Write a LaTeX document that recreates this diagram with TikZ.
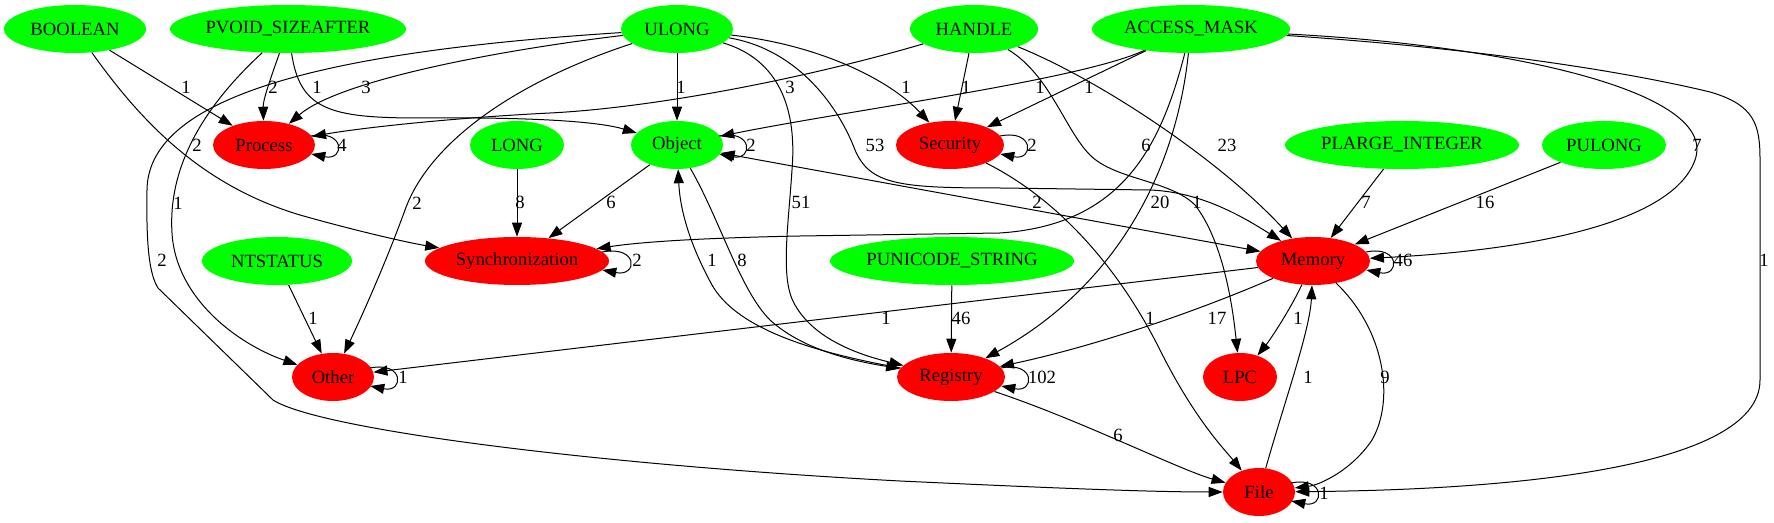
\documentclass[tikz,border=0pt]{standalone}
\usepackage{fontspec}
\setmainfont{Liberation Serif}
\usetikzlibrary{shapes.geometric,arrows.meta}
\definecolor{gvgreen}{HTML}{00FF00}
\definecolor{gvred}{HTML}{FF0000}
\begin{document}
\begin{tikzpicture}[x=0.75pt,y=-0.75pt,
  every node/.style={font=\fontsize{14}{16}\selectfont},
  gn/.style={ellipse, fill=gvgreen, inner sep=0pt, minimum height=36pt, minimum width=#1*1.5pt},
  rn/.style={ellipse, fill=gvred, inner sep=0pt, minimum height=36pt, minimum width=#1*1.5pt},
  conn/.style={draw, line width=0.75pt, -{Triangle[length=10.5pt,width=7.5pt]}},
  both/.style={draw, line width=0.75pt, {Triangle[length=10.5pt,width=7.5pt]}-{Triangle[length=10.5pt,width=7.5pt]}},
  lbl/.style={inner sep=0pt}]
\useasboundingbox (0,0) rectangle (1774,523);
% rank 0
\node[gn=71] (BOOL) at (75,29) {BOOLEAN};
\node[gn=118] (PVOID) at (288,29) {PVOID\_SIZEAFTER};
\node[gn=56] (ULONG) at (677,29) {ULONG};
\node[gn=64] (HANDLE) at (974,29) {HANDLE};
\node[gn=99] (AMASK) at (1191,29) {ACCESS\_MASK};
% rank 1
\node[rn=51] (PROC) at (264,145) {Process};
\node[gn=47] (LONG) at (517,145) {LONG};
\node[gn=46] (OBJ) at (677,145) {Object};
\node[rn=54] (SEC) at (950,145) {Security};
\node[gn=117] (PLARGE) at (1402,145) {PLARGE\_INTEGER};
\node[gn=62] (PULONG) at (1604,145) {PULONG};
% rank 2
\node[gn=75] (NTS) at (277,261) {NTSTATUS};
\node[rn=92] (SYNC) at (517,261) {Synchronization};
\node[gn=122] (PUNI) at (952,261) {PUNICODE\_STRING};
\node[rn=57] (MEM) at (1313,261) {Memory};
% rank 3
\node[rn=41] (OTH) at (333,377) {Other};
\node[rn=54] (REG) at (951,377) {Registry};
\node[rn=37] (LPC) at (1240,377) {LPC};
% rank 4
\node[rn=36] (FILE) at (1259,492) {File};

% edges
\draw[conn] (BOOL) -- (PROC);
\draw[conn] (BOOL) .. controls (140,120) and (200,185) .. (300,215) .. controls (360,232) and (410,243) .. (SYNC);
\draw[conn] (PVOID) .. controls (270,80) and (263,100) .. (PROC);
\draw[conn] (PVOID) .. controls (300,110) and (330,118) .. (420,118) .. controls (540,117) and (600,122) .. (OBJ);
\draw[conn] (PVOID) .. controls (200,110) and (168,170) .. (172,233) .. controls (176,300) and (240,345) .. (OTH);
\draw[conn] (ULONG) .. controls (500,50) and (340,80) .. (PROC);
\draw[conn] (ULONG) .. controls (350,50) and (148,90) .. (147,190) .. controls (146,250) and (150,275) .. (158,288) -- (273,400) .. controls (320,430) and (600,465) .. (900,481) .. controls (1050,488) and (1150,492) .. (FILE);
\draw[conn] (ULONG) .. controls (520,80) and (430,140) .. (405,210) .. controls (385,265) and (360,320) .. (OTH);
\draw[conn] (ULONG) -- (OBJ);
\draw[conn] (ULONG) .. controls (820,45) and (890,80) .. (SEC);
\draw[conn] (ULONG) .. controls (780,60) and (797,110) .. (792,170) .. controls (788,230) and (780,280) .. (795,305) .. controls (815,340) and (860,355) .. (REG);
\draw[conn] (ULONG) .. controls (800,50) and (840,110) .. (855,150) .. controls (870,185) and (900,188) .. (1000,188) -- (1150,190) .. controls (1200,192) and (1240,215) .. (MEM);
\draw[conn] (HANDLE) .. controls (800,80) and (650,108) .. (550,113) .. controls (450,118) and (360,128) .. (PROC);
\draw[conn] (HANDLE) -- (SEC);
\draw[conn] (HANDLE) .. controls (1050,75) and (1065,130) .. (1090,155) .. controls (1115,180) and (1170,180) .. (1195,205) .. controls (1222,240) and (1232,300) .. (LPC);
\draw[conn] (HANDLE) .. controls (1100,80) and (1220,160) .. (MEM);
\draw[conn] (AMASK) .. controls (1080,80) and (850,110) .. (OBJ);
\draw[conn] (AMASK) -- (SEC);
\draw[conn] (AMASK) .. controls (1160,150) and (1120,225) .. (1000,233) -- (800,236) .. controls (700,238) and (640,242) .. (SYNC);
\draw[conn] (AMASK) .. controls (1175,180) and (1110,290) .. (REG);
\draw[conn] (AMASK) .. controls (1500,45) and (1720,90) .. (1695,160) .. controls (1670,230) and (1500,252) .. (MEM);
\draw[conn] (AMASK) .. controls (1500,50) and (1640,75) .. (1710,92) .. controls (1755,105) and (1760,125) .. (1760,160) -- (1760,380) .. controls (1760,470) and (1500,490) .. (FILE);
\draw[conn] (LONG) -- (SYNC);
\draw[conn] (NTS) -- (OTH);
\draw[conn] (PUNI) -- (REG);
\draw[conn] (PLARGE) -- (MEM);
\draw[conn] (PULONG) -- (MEM);
\draw[conn] (OBJ) -- (SYNC);
\draw[conn] (OBJ) .. controls (720,220) and (740,290) .. (770,320) .. controls (805,352) and (860,362) .. (REG);
\draw[conn] (REG) .. controls (800,350) and (735,325) .. (712,285) .. controls (690,245) and (680,210) .. (OBJ);
\draw[both] (OBJ) -- (MEM);
\draw[conn] (MEM) -- (OTH);
\draw[conn] (MEM) .. controls (1200,310) and (1100,345) .. (REG);
\draw[conn] (MEM) .. controls (1290,310) and (1270,340) .. (LPC);
\draw[conn] (MEM) .. controls (1385,330) and (1395,400) .. (1372,440) .. controls (1352,470) and (1320,485) .. (FILE);
\draw[conn] (FILE) .. controls (1285,400) and (1310,330) .. (MEM);
\draw[conn] (SEC) .. controls (1060,200) and (1120,270) .. (1160,350) .. controls (1195,420) and (1225,450) .. (FILE);
\draw[conn] (REG) .. controls (1080,420) and (1180,470) .. (FILE);
% self loops
\foreach \n in {PROC,OBJ,SEC,MEM,OTH,REG,FILE}
  \draw[conn] ([shift={(-4,-9)}]\n.east) .. controls +(34,-7) and +(34,7) .. ([shift={(-4,9)}]\n.east);
\draw[conn] ([shift={(-7,-9)}]SYNC.east) .. controls +(36,-7) and +(36,7) .. ([shift={(-7,9)}]SYNC.east);

% labels
\node[lbl] (l1) at (186,87) {1};
\node[lbl] (l2) at (273,87) {2};
\node[lbl] (l3) at (317,87) {1};
\node[lbl] (l4) at (366,87) {3};
\node[lbl] (l5) at (681,87) {1};
\node[lbl] (l6) at (790,87) {3};
\node[lbl] (l7) at (906,87) {1};
\node[lbl] (l8) at (966,87) {1};
\node[lbl] (l9) at (1040,87) {1};
\node[lbl] (l10) at (1089,87) {1};
\node[lbl] (l11) at (342,145) {4};
\node[lbl] (l12) at (197,145) {2};
\node[lbl] (l13) at (751,145) {2};
\node[lbl] (l14) at (875,145) {53};
\node[lbl] (l15) at (1032,145) {2};
\node[lbl] (l16) at (1146,145) {6};
\node[lbl] (l17) at (1227,145) {23};
\node[lbl] (l18) at (1697,145) {7};
\node[lbl] (l19) at (178,203) {1};
\node[lbl] (l20) at (417,203) {2};
\node[lbl] (l21) at (520,202) {8};
\node[lbl] (l22) at (611,202) {6};
\node[lbl] (l23) at (801,202) {51};
\node[lbl] (l24) at (1037,202) {2};
\node[lbl] (l25) at (1160,202) {20};
\node[lbl] (l26) at (1197,202) {1};
\node[lbl] (l27) at (1366,202) {7};
\node[lbl] (l28) at (1485,202) {16};
\node[lbl] (l29) at (162,260) {2};
\node[lbl] (l30) at (637,260) {2};
\node[lbl] (l31) at (712,260) {1};
\node[lbl] (l32) at (742,260) {8};
\node[lbl] (l33) at (1403,260) {46};
\node[lbl] (l34) at (1764,260) {1};
\node[lbl] (l35) at (313,318) {1};
\node[lbl] (l36) at (886,318) {1};
\node[lbl] (l37) at (961,318) {46};
\node[lbl] (l38) at (1150,318) {1};
\node[lbl] (l39) at (1217,318) {17};
\node[lbl] (l40) at (1298,318) {1};
\node[lbl] (l41) at (403,377) {1};
\node[lbl] (l42) at (1042,377) {102};
\node[lbl] (l43) at (1308,377) {1};
\node[lbl] (l44) at (1385,377) {9};
\node[lbl] (l45) at (1118,435) {6};
\node[lbl] (l46) at (1324,493) {1};
\end{tikzpicture}
\end{document}
